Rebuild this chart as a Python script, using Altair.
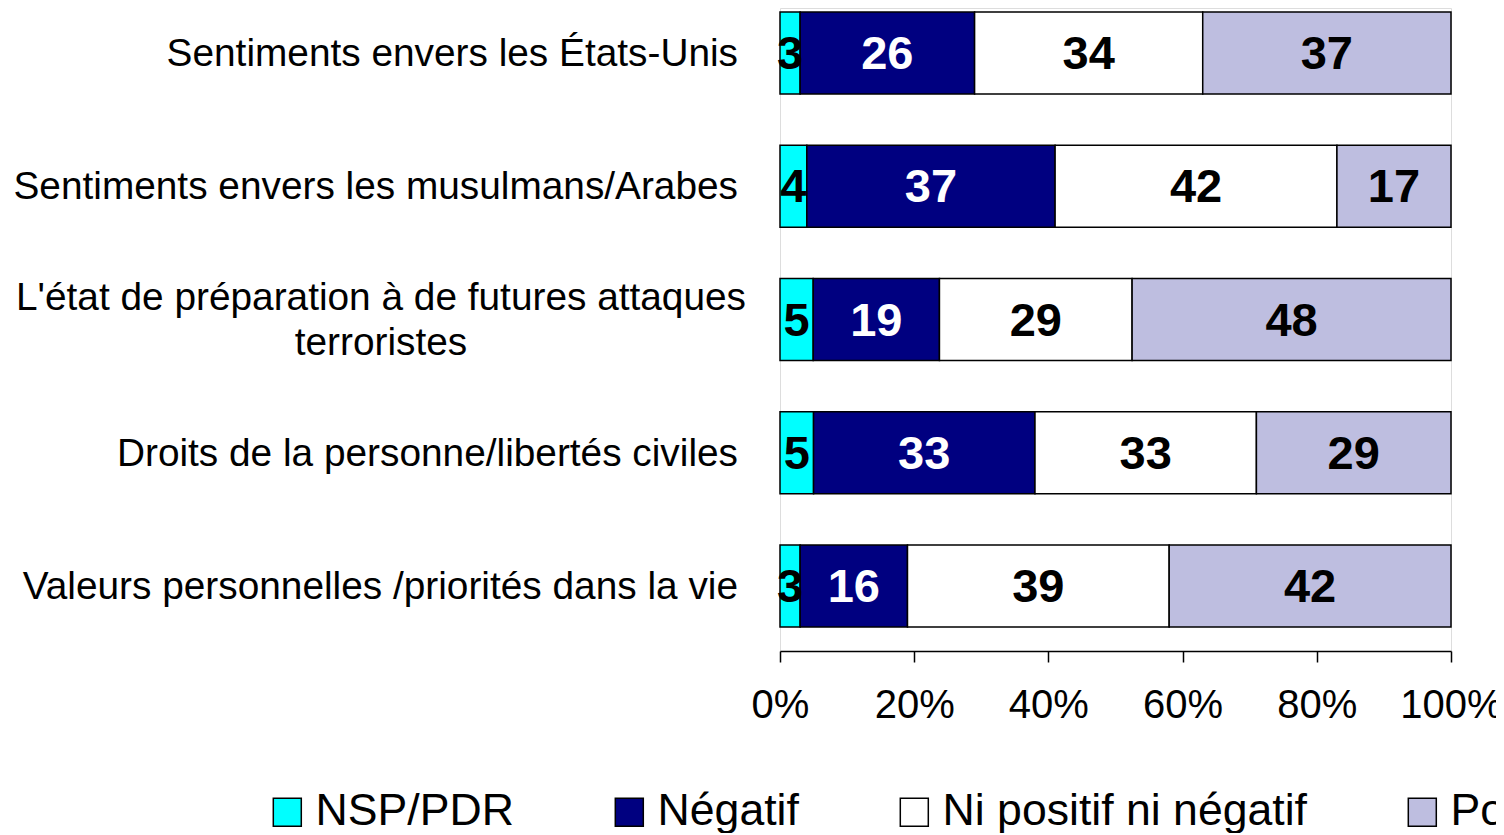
import altair as alt
import pandas as pd

FONT = "Arial, Liberation Sans, sans-serif"

categories = [
    "Sentiments envers les États-Unis",
    "Sentiments envers les musulmans/Arabes",
    "L'état de préparation à de futures attaques terroristes",
    "Droits de la personne/libertés civiles",
    "Valeurs personnelles /priorités dans la vie",
]
cat_labels = [
    "Sentiments envers les États-Unis",
    "Sentiments envers les musulmans/Arabes",
    "L'état de préparation à de futures attaques|terroristes",
    "Droits de la personne/libertés civiles",
    "Valeurs personnelles /priorités dans la vie",
]
series = ["NSP/PDR", "Négatif", "Ni positif ni négatif", "Positif"]
colors = ["#00FFFF", "#000080", "#FFFFFF", "#BEBEE0"]

nsp = [3, 4, 5, 5, 3]
neg = [26, 37, 19, 33, 16]
ni = [34, 42, 29, 33, 39]
pos = [37, 17, 48, 29, 42]

ticks = [0, 0.2, 0.4, 0.6, 0.8, 1.0]

rows = []
for i, c in enumerate(categories):
    for j, vals in enumerate([nsp, neg, ni, pos]):
        rows.append({"cat": c, "serie": series[j], "order": j, "value": vals[i]})
df = pd.DataFrame(rows)
labdf = pd.DataFrame({"cat": categories, "label": cat_labels})

yenc = alt.Y(
    "cat:N",
    sort=categories,
    axis=None,
    scale=alt.Scale(paddingInner=0.385, paddingOuter=0.105, align=0.143),
)

bars = alt.Chart(df).mark_bar(stroke="black", strokeWidth=1.5).encode(
    x=alt.X(
        "value:Q",
        stack="normalize",
        scale=alt.Scale(domain=[0, 1]),
        axis=alt.Axis(
            values=ticks,
            format=".0%",
            title=None,
            grid=False,
            domainColor="black",
            domainWidth=1.5,
            tickColor="black",
            tickWidth=1.5,
            tickSize=11,
            labelFont=FONT,
            labelFontSize=40,
            labelColor="black",
            labelPadding=23,
            labelFlush=False,
            labelOverlap=False,
        ),
    ),
    y=yenc,
    color=alt.Color(
        "serie:N",
        sort=series,
        scale=alt.Scale(domain=series, range=colors),
        legend=alt.Legend(
            title=None,
            orient="none",
            legendX=-515,
            legendY=782,
            direction="horizontal",
            columns=4,
            symbolType="square",
            symbolSize=784,
            symbolStrokeColor="black",
            symbolStrokeWidth=1.5,
            symbolOpacity=1,
            labelFont=FONT,
            labelFontSize=44.6,
            labelColor="black",
            labelOffset=6,
            labelLimit=0,
            columnPadding=93,
            padding=0,
        ),
    ),
    order=alt.Order("order:Q"),
)

stacked = alt.Chart(df).transform_stack(
    stack="value",
    groupby=["cat"],
    as_=["x0", "x1"],
    offset="normalize",
    sort=[alt.SortField("order", order="ascending")],
).transform_calculate(mid="(datum.x0 + datum.x1) / 2")

vals_black = stacked.transform_filter("datum.serie != 'Négatif'").mark_text(
    font=FONT, fontSize=47, fontWeight="bold", baseline="middle", align="center", color="black", dy=2
).encode(x=alt.X("mid:Q"), y=yenc, text="value:Q")

vals_white = stacked.transform_filter("datum.serie == 'Négatif'").mark_text(
    font=FONT, fontSize=47, fontWeight="bold", baseline="middle", align="center", color="white", dy=2
).encode(x=alt.X("mid:Q"), y=yenc, text="value:Q")

lab_single = alt.Chart(labdf).transform_filter("indexof(datum.label, '|') < 0").mark_text(
    font=FONT, fontSize=38.8, align="right", baseline="middle", color="black", dy=1
).encode(x=alt.value(-42), y=yenc, text="label:N")

lab_multi = alt.Chart(labdf).transform_filter("indexof(datum.label, '|') >= 0").mark_text(
    font=FONT, fontSize=38.8, align="center", baseline="middle", color="black",
    lineBreak="|", lineHeight=45, dy=-22
).encode(x=alt.value(-399), y=yenc, text="label:N")

chart = alt.layer(bars, vals_black, vals_white, lab_single, lab_multi).properties(
    width=671,
    height=643,
    autosize=alt.AutoSizeParams(type="none"),
    padding={"left": 772, "top": 0, "right": 45, "bottom": 182},
).configure_view(strokeWidth=0).configure(background="white")

chart.save("out.html", embed_options={"renderer": "svg", "actions": False})
